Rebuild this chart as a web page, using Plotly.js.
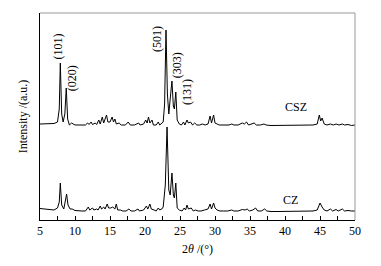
<!DOCTYPE html>
<html>
<head>
<meta charset="utf-8">
<script src="https://cdn.plot.ly/plotly-3.0.1.min.js"></script>
<style>html,body{margin:0;padding:0;background:#fff;}#chart{width:381px;height:266px;}</style>
</head>
<body>
<div id="chart"></div>
<script>
// 2θ positions and intensities (a.u.)
const cszTheta = [5.0,6.0,7.0,7.5,7.75,7.9,8.1,8.3,8.55,8.75,8.95,9.2,9.5,10.0,11.0,11.5,11.8,12.0,12.3,12.5,12.9,13.1,13.4,13.6,13.9,14.1,14.5,14.7,15.0,15.3,15.5,15.7,15.9,16.3,16.6,17.2,17.6,17.9,18.5,19.1,19.3,19.8,20.1,20.3,20.5,20.7,21.0,21.2,21.6,21.9,22.1,22.4,22.6,22.8,23.0,23.2,23.4,23.6,23.85,24.05,24.2,24.4,24.6,24.9,25.2,25.5,25.7,26.0,26.2,26.5,26.8,27.1,27.4,27.8,28.2,28.6,29.0,29.3,29.5,29.8,30.0,30.3,30.6,31.0,31.5,32.0,32.4,32.7,33.3,33.9,34.2,34.5,34.8,35.3,35.6,35.9,36.5,37.0,37.3,38.0,39.0,40.0,41.0,42.0,43.0,44.0,44.6,44.9,45.1,45.3,45.6,46.0,46.5,46.9,47.3,47.7,48.2,48.5,49.0,49.5,50.0];
const cszIntensity = [10,10,10.5,12,25,71,20,12,20,46,15,9,11,9,9,9,11,9.5,12,9.5,11,9.5,14,10,17,11,19,12,12,17,12,15,10,11,9,9,12,9,9,11,9,10,14,11,17,11,14,9,9,12,9,11,12,30,104,40,20,35,53,28,25,42,14,10,9,12,9,14,11,12,9,11,9,9,10,9,10,18,11,19,11,10,9,9,9,9,10,9,9,11,10,12,9,10,11,9,9,10,9,8.5,8.5,8.5,8.5,8.5,8.5,9,10,19,13,16,10,9,10,9,10,9,10,9,9.5,8.5,9];

const czTheta = [5.0,6.0,7.0,7.5,7.75,7.9,8.1,8.4,8.6,8.8,9.0,9.3,9.6,10.0,11.0,11.5,11.9,12.1,12.5,12.7,13.1,13.3,13.6,13.8,14.1,14.3,14.6,14.8,15.1,15.4,15.7,15.9,16.1,16.5,16.8,17.3,17.7,18.0,18.5,19.0,19.2,19.8,20.2,20.4,20.7,20.9,21.3,21.6,21.9,22.1,22.4,22.6,22.9,23.15,23.4,23.6,23.85,24.05,24.2,24.4,24.6,24.9,25.3,25.6,25.8,26.0,26.2,26.6,26.9,27.2,27.6,28.0,28.5,29.0,29.3,29.5,29.8,30.0,30.3,30.7,31.2,31.8,32.4,32.7,33.3,33.9,34.3,34.6,34.9,35.4,35.8,36.1,36.6,37.1,37.4,38.0,39.0,40.0,41.0,42.0,43.0,44.0,44.6,45.0,45.3,45.6,46.0,46.5,46.8,47.3,47.6,48.2,48.5,49.0,49.5,50.0];
const czIntensity = [11.5,11,10,12,18,37,15,11,17,26,15,11,11,9.5,9,9,13,10,12,10,11,10,14,11,13,11,16,12,12,13,11,16,10,10,9,9,11,9,9,11,9,10,14,11,16,11,10,9,12,10,11,13,35,93,30,25,47,25,22,37,12,10,9,12,10,15,11,12,9,10,9,9,10,11,16,11,17,12,10,9,9,9,10,9,9,10.5,10,11,9,10,12,9,9,11,9,8.5,8.5,8.5,8.5,8.5,8.5,9,10,17,13,10,9,11,9,10.5,9,11,9,9.5,9,9];

const cszOffset = 86;
const seriesNames = ["CSZ", "CZ"];
const peakLabels = ["(101)", "(020)", "(501)", "(303)", "(131)"];
const peakLabelTheta = [7.5, 9.6, 21.7, 24.6, 26.0];
const peakLabelY = [173, 142, 181, 155, 128];
const xTickVals = [5,10,15,20,25,30,35,40,45,50];

const font = "Liberation Serif, Times New Roman, serif";

const traces = [
  {x: cszTheta, y: cszIntensity.map(v => v + cszOffset), type: "scatter", mode: "lines",
   line: {color: "#000", width: 1}, name: seriesNames[0], hoverinfo: "skip"},
  {x: czTheta, y: czIntensity, type: "scatter", mode: "lines",
   line: {color: "#000", width: 1}, name: seriesNames[1], hoverinfo: "skip"}
];

const annotations = peakLabels.map((t, i) => ({
  x: peakLabelTheta[i], y: peakLabelY[i], xref: "x", yref: "y", text: t,
  textangle: -90, showarrow: false, font: {family: font, size: 12, color: "#000"}
}));
annotations.push({x: 41.5, y: 113, xref: "x", yref: "y", text: seriesNames[0], showarrow: false,
  font: {family: font, size: 12, color: "#000"}});
annotations.push({x: 40.8, y: 20, xref: "x", yref: "y", text: seriesNames[1], showarrow: false,
  font: {family: font, size: 12, color: "#000"}});

const layout = {
  width: 381, height: 266,
  margin: {l: 40, r: 26, t: 13, b: 46},
  paper_bgcolor: "#fff", plot_bgcolor: "#fff",
  showlegend: false,
  font: {family: font, size: 12, color: "#000"},
  xaxis: {
    range: [5, 50], tickvals: xTickVals, ticks: "inside", ticklen: 4, tickcolor: "#000",
    showline: true, linecolor: "#000", linewidth: 1, showgrid: false, zeroline: false,
    minor: {dtick: 2.5, tick0: 5, ticks: "inside", ticklen: 4, tickcolor: "#000", showgrid: false},
    tickfont: {family: font, size: 12, color: "#000"},
    title: {text: "2<i>θ</i> /(°)", font: {family: font, size: 12, color: "#000"}, standoff: 7}
  },
  yaxis: {
    range: [0, 207], showticklabels: false, ticks: "", showline: true, linecolor: "#000",
    linewidth: 1, showgrid: false, zeroline: false,
    title: {text: "Intensity /(a.u.)", font: {family: font, size: 12, color: "#000"}, standoff: 8}
  },
  shapes: [
    {type: "line", xref: "paper", yref: "paper", x0: 0, x1: 1, y0: 1, y1: 1, line: {color: "#999", width: 1}},
    {type: "line", xref: "paper", yref: "paper", x0: 1, x1: 1, y0: 0, y1: 1, line: {color: "#999", width: 1}}
  ],
  annotations: annotations
};

Plotly.newPlot("chart", traces, layout, {staticPlot: true, displayModeBar: false});
</script>
</body>
</html>
